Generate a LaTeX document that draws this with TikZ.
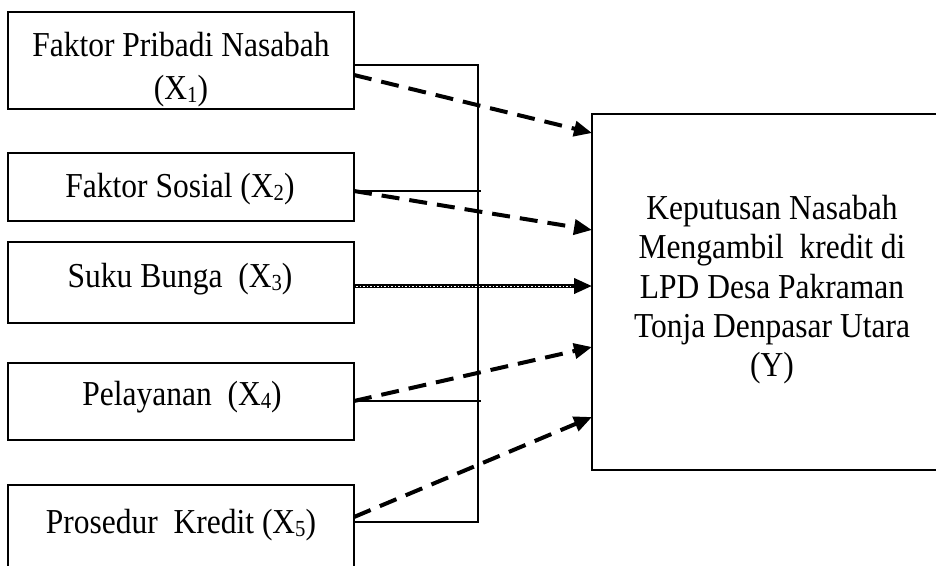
\documentclass[tikz,border=0pt]{standalone}
\usepackage{fontspec}
\setmainfont[FakeStretch=0.9]{Liberation Serif}
\usetikzlibrary{arrows.meta}
\newcommand\xsub[1]{\raisebox{-0.1em}{\fontsize{23}{23}\selectfont #1}}
\begin{document}
\begin{tikzpicture}[x=1pt,y=-1pt,
  box/.style={draw,line width=2.3pt,inner sep=0pt,outer sep=0pt},
  lbl/.style={inner sep=0pt,outer sep=0pt,font=\fontsize{35}{40}\selectfont},
  bus/.style={line width=2.6pt},
  darr/.style={line width=4pt,dash pattern=on 18pt off 10pt,-{Triangle[length=18pt,width=15pt]}}]
\useasboundingbox (0,0) rectangle (936,565);
\clip (0,0) rectangle (936,565);
% boxes
\node[box,minimum width=346pt,minimum height=97pt] (x1) at (181,60.5) {};
\node[box,minimum width=346pt,minimum height=68pt] (x2) at (181,187) {};
\node[box,minimum width=346pt,minimum height=81pt] (x3) at (181,282.5) {};
\node[box,minimum width=346pt,minimum height=77pt] (x4) at (181,401.5) {};
\node[box,minimum width=346pt,minimum height=115pt] (x5) at (181,542.5) {};
\node[box,minimum width=360pt,minimum height=356pt] (y) at (772,292) {};
% labels
\node[lbl,align=center] (t1) at (181,69.5) {Faktor Pribadi\ Nasabah\\[3pt](X\xsub{1})};
\node[lbl,anchor=base] (t2) at (180,197) {Faktor Sosial\ (X\xsub{2})};
\node[lbl,anchor=base] (t3) at (180,287) {Suku Bunga\ \ (X\xsub{3})};
\node[lbl,anchor=base] (t4) at (182,405) {Pelayanan\ \ (X\xsub{4})};
\node[lbl,anchor=base] (t5) at (181,533) {Prosedur\ \ Kredit (X\xsub{5})};
\node[lbl,align=center,font=\fontsize{35}{39.25}\selectfont] (ty) at (772,289.6)
  {Keputusan\ Nasabah\\Mengambil\ \ kredit di\\LPD Desa Pakraman\\Tonja\ Denpasar\ Utara\\(Y)};
% bus
\coordinate (b1) at (478,65);
\coordinate (b2) at (478,191);
\coordinate (b3) at (478,286);
\coordinate (b4) at (478,401);
\coordinate (b5) at (478,522);
\draw[bus] (x1.east |- b1) -- (b1) -- (b5) -- (x5.east |- b5);
\draw[bus] (x2.east |- b2) -- ([xshift=3pt]b2);
\draw[bus] (x4.east |- b4) -- ([xshift=3pt]b4);
% arrows
\draw[darr] (x1.east |- 0,75) -- (y.west |- 0,133);
\draw[darr] (x2.east |- b2) -- (y.west |- 0,230);
\draw[line width=3.8pt,-{Triangle[length=18pt,width=15pt]}] (x3.east |- b3) -- (y.west |- b3);
\draw[white,line width=1pt,dash pattern=on 1.5pt off 2pt] ([xshift=2pt]x3.east |- b3) -- ([xshift=-21pt]y.west |- b3);
\draw[darr] (x4.east |- b4) -- (y.west |- 0,347);
\draw[darr] (x5.east |- 0,517) -- (y.west |- 0,417);
\end{tikzpicture}
\end{document}
